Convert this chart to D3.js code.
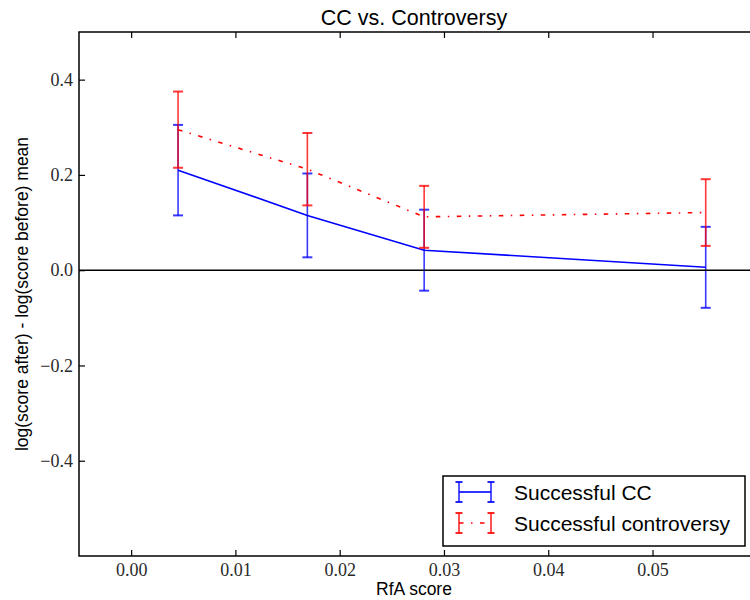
<!DOCTYPE html>
<html>
<head>
<meta charset="utf-8">
<script src="https://cdnjs.cloudflare.com/ajax/libs/d3/7.8.5/d3.min.js"></script>
<style>
  body { margin: 0; background: white; }
  svg { display: block; }
  .sans { font-family: "Liberation Sans", Arial, sans-serif; }
</style>
</head>
<body>
<div id="chart"></div>
<script>
var width = 750,
    height = 600;

// data
var rfaScore = [0.0045, 0.0169, 0.0281, 0.0551];
var ccMean = [0.210, 0.115, 0.042, 0.006];
var ccErr = [0.095, 0.088, 0.085, 0.085];
var contMean = [0.295, 0.212, 0.112, 0.121];
var contErr = [0.080, 0.076, 0.065, 0.070];

var xTicks = [0.00, 0.01, 0.02, 0.03, 0.04, 0.05];
var yTicks = [-0.4, -0.2, 0.0, 0.2, 0.4];
var seriesNames = ["Successful CC", "Successful controversy"];

// plot box (the right edge runs slightly past the picture)
var pLeft = 79, pRight = 756.8, pTop = 32, pBottom = 556;

var x = d3.scaleLinear().domain([-0.005, 0.06]).range([pLeft, pRight]);
var y = d3.scaleLinear().domain([-0.6, 0.5]).range([pBottom, pTop]);

var svg = d3.select("#chart").append("svg")
  .attr("width", width)
  .attr("height", height);

svg.append("defs").append("clipPath").attr("id", "clip")
  .append("rect").attr("x", pLeft).attr("y", pTop)
  .attr("width", pRight - pLeft).attr("height", pBottom - pTop);

var plot = svg.append("g").attr("clip-path", "url(#clip)");

var series = [
  { name: seriesNames[0], mean: ccMean, err: ccErr, color: "#0000ff", dash: null },
  { name: seriesNames[1], mean: contMean, err: contErr, color: "#ff0000", dash: "4.5,7.5,1.5,7.5" }
];

var line = d3.line()
  .x(function(d) { return x(d.x); })
  .y(function(d) { return y(d.y); });

series.forEach(function(s) {
  var pts = rfaScore.map(function(v, i) { return { x: v, y: s.mean[i], e: s.err[i] }; });

  plot.append("path")
    .datum(pts)
    .attr("d", line)
    .attr("fill", "none")
    .attr("stroke", s.color)
    .attr("stroke-width", 1.6)
    .attr("stroke-dasharray", s.dash);

  var bars = plot.append("g")
    .attr("stroke", s.color)
    .attr("stroke-opacity", 0.78)
    .attr("stroke-width", 1.6);

  bars.selectAll(".err")
    .data(pts)
    .enter().append("line")
    .attr("x1", function(d) { return x(d.x); })
    .attr("x2", function(d) { return x(d.x); })
    .attr("y1", function(d) { return y(d.y - d.e); })
    .attr("y2", function(d) { return y(d.y + d.e); });

  [-1, 1].forEach(function(sign) {
    bars.selectAll(".cap" + sign)
      .data(pts)
      .enter().append("line")
      .attr("stroke-width", 2)
      .attr("x1", function(d) { return x(d.x) - 5; })
      .attr("x2", function(d) { return x(d.x) + 5; })
      .attr("y1", function(d) { return y(d.y + sign * d.e); })
      .attr("y2", function(d) { return y(d.y + sign * d.e); });
  });
});

// zero line
plot.append("line")
  .attr("x1", pLeft).attr("x2", pRight)
  .attr("y1", y(0)).attr("y2", y(0))
  .attr("stroke", "black")
  .attr("stroke-width", 1.5);

// frame
svg.append("rect")
  .attr("x", pLeft).attr("y", pTop)
  .attr("width", pRight - pLeft).attr("height", pBottom - pTop)
  .attr("fill", "none")
  .attr("stroke", "black")
  .attr("stroke-width", 1.5);

// axes (ticks inward)
var xAxisB = d3.axisBottom(x).tickValues(xTicks).tickSizeInner(-6).tickSizeOuter(0)
  .tickPadding(7).tickFormat(d3.format(".2f"));
var xAxisT = d3.axisTop(x).tickValues(xTicks).tickSizeInner(-6).tickSizeOuter(0).tickFormat("");
var yAxisL = d3.axisLeft(y).tickValues(yTicks).tickSizeInner(-6).tickSizeOuter(0)
  .tickPadding(6).tickFormat(function(d) { return d3.format(".1f")(d).replace("-", "\u2212"); });

function styleAxis(g) {
  g.select(".domain").remove();
  g.attr("font-size", 18).attr("font-family", "'Liberation Serif', 'DejaVu Serif', serif");
  g.selectAll(".tick line").attr("stroke", "black").attr("stroke-width", 1.2);
  g.selectAll(".tick text").attr("fill", "#2a2a2a");
}

svg.append("g").attr("transform", "translate(0," + pBottom + ")").call(xAxisB).call(styleAxis);
svg.append("g").attr("transform", "translate(0," + pTop + ")").call(xAxisT).call(styleAxis);
svg.append("g").attr("transform", "translate(" + pLeft + ",0)").call(yAxisL).call(styleAxis);

// title and labels
svg.append("text").attr("class", "sans")
  .attr("x", (pLeft + 749) / 2).attr("y", 25)
  .attr("text-anchor", "middle")
  .attr("font-size", 21.5)
  .text("CC vs. Controversy");

svg.append("text").attr("class", "sans")
  .attr("x", (pLeft + 749) / 2).attr("y", 595)
  .attr("text-anchor", "middle")
  .attr("font-size", 17.5)
  .text("RfA score");

svg.append("text").attr("class", "sans")
  .attr("transform", "translate(28," + ((pTop + pBottom) / 2) + ") rotate(-90)")
  .attr("text-anchor", "middle")
  .attr("font-size", 17.5)
  .text("log(score after) - log(score before) mean");

// legend
var legend = svg.append("g").attr("transform", "translate(443,476)");
legend.append("rect")
  .attr("width", 302).attr("height", 70)
  .attr("fill", "white")
  .attr("stroke", "black")
  .attr("stroke-width", 1.5);

series.forEach(function(s, i) {
  var row = legend.append("g").attr("transform", "translate(0," + (16 + i * 31) + ")");
  row.append("line")
    .attr("x1", 16).attr("x2", 48)
    .attr("stroke", s.color).attr("stroke-width", 1.6)
    .attr("stroke-dasharray", s.dash);
  [16, 48].forEach(function(cx) {
    var bar = row.append("g").attr("stroke", s.color).attr("stroke-opacity", 0.85).attr("stroke-width", 1.6);
    bar.append("line").attr("x1", cx).attr("x2", cx).attr("y1", -10).attr("y2", 10);
    bar.append("line").attr("x1", cx - 3.5).attr("x2", cx + 3.5).attr("y1", -10).attr("y2", -10).attr("stroke-width", 2);
    bar.append("line").attr("x1", cx - 3.5).attr("x2", cx + 3.5).attr("y1", 10).attr("y2", 10).attr("stroke-width", 2);
  });
  row.append("text").attr("class", "sans")
    .attr("x", 71).attr("y", 7.5)
    .attr("font-size", 21)
    .text(s.name);
});
</script>
</body>
</html>
